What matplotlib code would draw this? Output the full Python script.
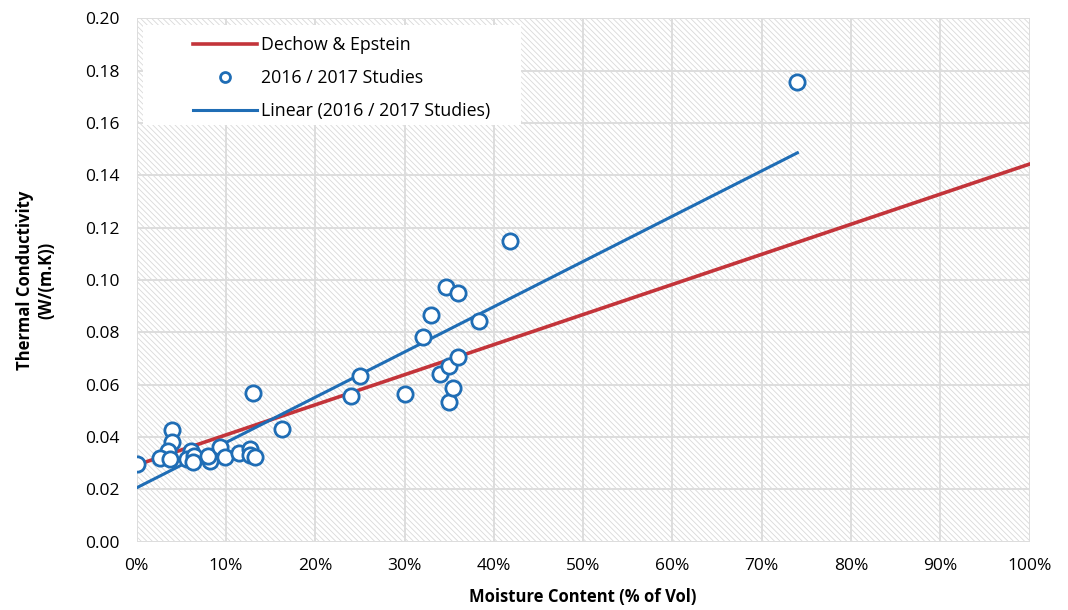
import numpy as np
import matplotlib.pyplot as plt
from matplotlib.patches import Rectangle

plt.rcParams['font.family'] = ['Open Sans', 'DejaVu Sans']
plt.rcParams['hatch.linewidth'] = 0.6
plt.rcParams['hatch.color'] = '#d9d9d9'

# 2016 / 2017 studies: moisture content (% of vol) and thermal conductivity
moisture = [0.0, 3.9, 4.0, 3.5, 2.6, 3.7, 6.1, 5.6, 6.4, 6.3, 8.2, 8.0, 9.3, 9.9,
            11.5, 12.7, 12.7, 13.2, 13.0, 16.3, 24.0, 25.0, 30.0, 32.1, 33.0,
            34.0, 34.6, 35.0, 35.0, 35.4, 36.0, 36.0, 38.3, 41.8, 74.0]
conductivity = [0.0297, 0.0428, 0.0380, 0.0348, 0.0320, 0.0316, 0.0348, 0.0316,
                0.0326, 0.0304, 0.0310, 0.0329, 0.0360, 0.0323, 0.0339, 0.0354,
                0.0331, 0.0323, 0.0570, 0.0430, 0.0557, 0.0634, 0.0564, 0.0784,
                0.0867, 0.0639, 0.0974, 0.0672, 0.0532, 0.0589, 0.0951, 0.0707,
                0.0845, 0.1149, 0.1756]

# Dechow & Epstein reference line
dechow_x = [0, 100]
dechow_y = [0.0293, 0.1443]

# linear trendline endpoints (as drawn)
trend_x = [0, 74]
trend_y = [0.0206, 0.1486]

red = '#c3343a'
blue = '#1f6db5'

fig = plt.figure(figsize=(10.68, 6.10), dpi=100)
ax = fig.add_axes([0.128, 0.112, 0.836, 0.858])

# hatched plot area
ax.add_patch(Rectangle((0, 0), 1, 1, transform=ax.transAxes, facecolor='white',
                       hatch='\\\\\\\\\\\\', edgecolor='#d9d9d9', linewidth=0, zorder=0))

ax.plot(dechow_x, dechow_y, color=red, lw=2.6, label='Dechow & Epstein', zorder=3)
ax.plot(moisture, conductivity, 'o', ms=11, mfc='white', mec=blue, mew=2.0,
        label='2016 / 2017 Studies', zorder=4)
ax.plot(trend_x, trend_y, color=blue, lw=2.2, label='Linear (2016 / 2017 Studies)', zorder=3)

ax.set_xlim(0, 100)
ax.set_ylim(0, 0.20)
ax.set_xticks(np.arange(0, 101, 10))
ax.set_xticklabels([f'{v}%' for v in range(0, 101, 10)])
ax.set_yticks(np.arange(0, 0.201, 0.02))
ax.set_yticklabels([f'{v:.2f}' for v in np.arange(0, 0.201, 0.02)])
ax.grid(True, color='#dddddd', lw=1.4, zorder=1)
ax.set_axisbelow(True)
for s in ax.spines.values():
    s.set_visible(False)
ax.tick_params(length=0, labelsize=12.5, pad=12)

ax.set_xlabel('Moisture Content (% of Vol)', fontsize=12, fontweight='bold', labelpad=10)
ax.set_ylabel('Thermal Conductivity\n(W/(m.K))', fontsize=12, fontweight='bold', labelpad=22)

# white legend box
ax.add_patch(Rectangle((0.0067, 0.796), 0.424, 0.191, transform=ax.transAxes,
                       facecolor='white', edgecolor='none', zorder=5))
leg = ax.legend(loc='upper left', bbox_to_anchor=(0.063, 0.966), fontsize=12.8,
                frameon=False, borderpad=0, handlelength=3.6, labelspacing=0.85,
                handletextpad=0.2, borderaxespad=0, markerscale=0.65)
leg.set_zorder(6)

fig.savefig('out.png', dpi=100)
